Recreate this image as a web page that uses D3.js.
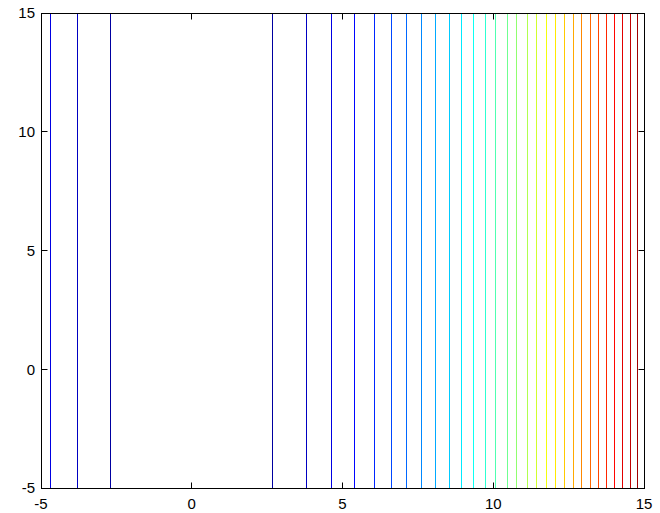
<!DOCTYPE html>
<html>
<head>
<meta charset="utf-8">
<script src="https://cdn.jsdelivr.net/npm/d3@7"></script>
<style>
  body { margin: 0; background: #ffffff; }
</style>
</head>
<body>
<script>
// contour lines of z = x^2
var lineX = [-4.70, -3.80, -2.69,
    2.69, 3.81, 4.65, 5.39, 6.05, 6.61, 7.11, 7.62, 8.08, 8.55,
    8.94, 9.35, 9.73, 10.08, 10.47, 10.78, 11.13, 11.44, 11.77, 12.08,
    12.36, 12.66, 12.93, 13.22, 13.50, 13.77, 14.01, 14.29, 14.55, 14.78];
var lineLevel = [3, 2, 1,
    1, 2, 3, 4, 5, 6, 7, 8, 9, 10,
    11, 12, 13, 14, 15, 16, 17, 18, 19, 20,
    21, 22, 23, 24, 25, 26, 27, 28, 29, 30];
var levelCount = 30;
var xTicks = [-5, 0, 5, 10, 15];
var yTicks = [-5, 0, 5, 10, 15];

var width = 660,
    height = 513,
    margin = {top: 13, right: 16, bottom: 25, left: 41},
    tickLen = 6,
    font = 'Arial, "Liberation Sans", sans-serif',
    fontSize = '15px';

// matlab "jet"
var jet = function(t) {
    var c = function(v) { return Math.round(255 * Math.max(0, Math.min(1, v))); };
    return 'rgb(' + c(1.5 - Math.abs(4 * t - 3)) + ',' +
        c(1.5 - Math.abs(4 * t - 2)) + ',' +
        c(1.5 - Math.abs(4 * t - 1)) + ')';
};

// put 1px strokes on pixel centres
var snap = function(v) { return Math.round(v - 0.5) + 0.5; };

var svg = d3.select('body')
    .append('svg')
    .attr('width', width)
    .attr('height', height);

var x = d3.scaleLinear()
    .domain([-5, 15])
    .range([margin.left, width - margin.right]);

var y = d3.scaleLinear()
    .domain([-5, 15])
    .range([height - margin.bottom, margin.top]);

svg.append('g')
    .selectAll('line')
    .data(lineX)
    .enter()
    .append('line')
    .attr('x1', function(d) { return snap(x(d)); })
    .attr('x2', function(d) { return snap(x(d)); })
    .attr('y1', snap(y(-5)))
    .attr('y2', snap(y(15)))
    .attr('stroke', function(d, i) { return jet(lineLevel[i] / (levelCount + 1)); })
    .attr('stroke-width', 1);

// ticks, pointing inwards on all four sides
var ticks = svg.append('g')
    .attr('stroke', '#000')
    .attr('stroke-width', 1);

xTicks.forEach(function(t) {
    ticks.append('line')
        .attr('x1', snap(x(t))).attr('x2', snap(x(t)))
        .attr('y1', snap(y(-5))).attr('y2', snap(y(-5)) - tickLen);
    ticks.append('line')
        .attr('x1', snap(x(t))).attr('x2', snap(x(t)))
        .attr('y1', snap(y(15))).attr('y2', snap(y(15)) + tickLen);
});

yTicks.forEach(function(t) {
    ticks.append('line')
        .attr('y1', snap(y(t))).attr('y2', snap(y(t)))
        .attr('x1', snap(x(-5))).attr('x2', snap(x(-5)) + tickLen);
    ticks.append('line')
        .attr('y1', snap(y(t))).attr('y2', snap(y(t)))
        .attr('x1', snap(x(15))).attr('x2', snap(x(15)) - tickLen);
});

svg.append('rect')
    .attr('x', snap(x(-5)))
    .attr('y', snap(y(15)))
    .attr('width', snap(x(15)) - snap(x(-5)))
    .attr('height', snap(y(-5)) - snap(y(15)))
    .attr('fill', 'none')
    .attr('stroke', '#000')
    .attr('stroke-width', 1);

svg.append('g')
    .selectAll('text')
    .data(xTicks)
    .enter()
    .append('text')
    .attr('x', function(d) { return x(d); })
    .attr('y', y(-5) + 21)
    .attr('text-anchor', 'middle')
    .attr('font-family', font)
    .attr('font-size', fontSize)
    .text(function(d) { return d; });

svg.append('g')
    .selectAll('text')
    .data(yTicks)
    .enter()
    .append('text')
    .attr('x', x(-5) - 6)
    .attr('y', function(d) { return y(d); })
    .attr('dy', '0.35em')
    .attr('text-anchor', 'end')
    .attr('font-family', font)
    .attr('font-size', fontSize)
    .text(function(d) { return d; });
</script>
</body>
</html>
